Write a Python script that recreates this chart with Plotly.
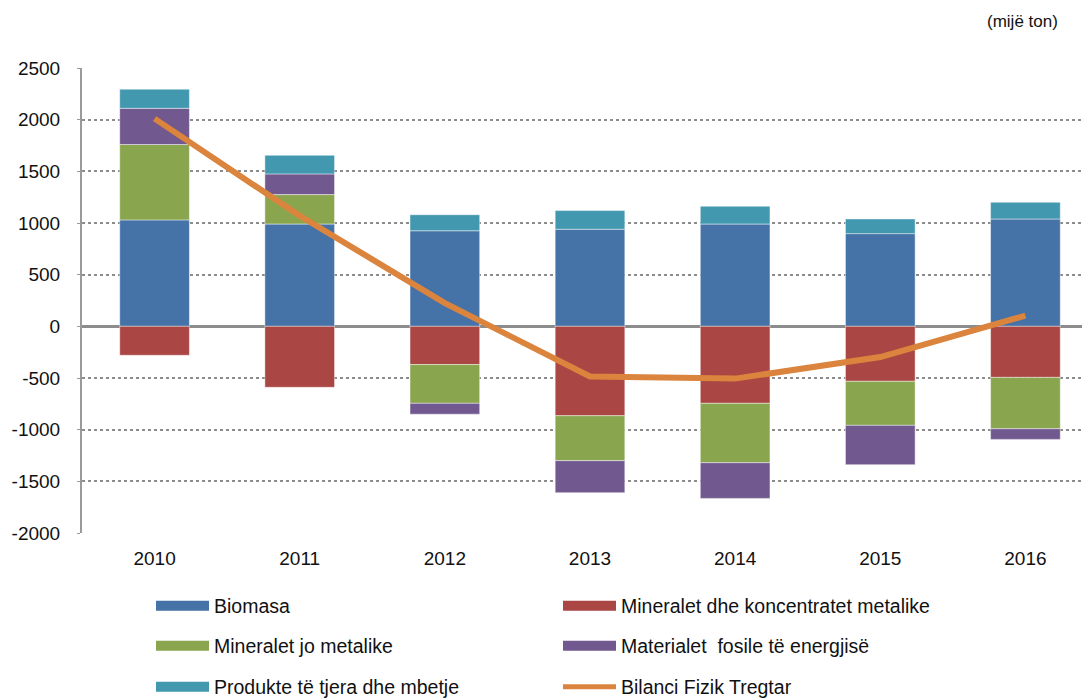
import plotly.graph_objects as go

years = ["2010", "2011", "2012", "2013", "2014", "2015", "2016"]
biomasa = [1030, 990, 925, 940, 990, 897, 1039]
mineralet_metalike = [-280, -590, -370, -865, -745, -532, -494]
mineralet_jo_metalike = [730, 285, -375, -435, -575, -426, -497]
fosile = [350, 200, -105, -310, -345, -381, -103]
produkte = [185, 180, 155, 180, 172, 142, 161]
bilanci = [2010, 1070, 225, -485, -506, -297, 104]

y_tick_vals = [-2000, -1500, -1000, -500, 0, 500, 1000, 1500, 2000, 2500]
y_tick_text = ["-2000", "-1500", "-1000", "-500", "0", "500", "1000", "1500", "2000", "2500"]

names = ["Biomasa", "Mineralet dhe koncentratet metalike", "Mineralet jo metalike",
         "Materialet  fosile të energjisë", "Produkte të tjera dhe mbetje", "Bilanci Fizik Tregtar"]
colors = ["#4572A7", "#AA4643", "#89A54E", "#71588F", "#4198AF", "#DB843D"]
series = [biomasa, mineralet_metalike, mineralet_jo_metalike, fosile, produkte]

FONT = "Liberation Sans, Arial, sans-serif"
W, H = 1090, 698
OFF = 8  # page body margin
ML, MT = 82 - OFF, 68 - OFF
MB = H - (533 - OFF)
PW, PH = W - ML, H - MT - MB

fig = go.Figure()

for s, n, c in zip(series, names, colors):
    fig.add_trace(go.Bar(x=years, y=s, name=n,
                         marker=dict(color=c, line=dict(color="rgba(255,255,255,0.45)", width=1)),
                         showlegend=False))

fig.add_trace(go.Scatter(x=years, y=bilanci, name=names[5], mode="lines",
                         line=dict(color=colors[5], width=6), showlegend=False))

# legend entries (wide rectangle symbols)
legend_ids = ["legend", "legend", "legend2", "legend2", "legend3", "legend3"]
for i in range(6):
    w = 5 if i == 5 else 11
    fig.add_trace(go.Scatter(x=[None], y=[None], name=names[i], mode="lines",
                             line=dict(color=colors[i], width=w), legend=legend_ids[i],
                             showlegend=True))

leg_common = dict(orientation="h", xref="container", yref="container", xanchor="left", yanchor="middle",
                  entrywidth=339, entrywidthmode="pixels", itemwidth=53, itemsizing="trace",
                  font=dict(family=FONT, size=19.5, color="#111"), bgcolor="rgba(0,0,0,0)",
                  traceorder="normal")
x0 = (148 - OFF + 3) / W
fig.update_layout(
    legend=dict(x=x0, y=1 - (606 - OFF) / H, **leg_common),
    legend2=dict(x=x0, y=1 - (646 - OFF) / H, **leg_common),
    legend3=dict(x=x0, y=1 - (687 - OFF) / H, **leg_common),
)

fig.update_layout(
    width=W, height=H,
    barmode="relative", bargap=0.52,
    plot_bgcolor="white", paper_bgcolor="white",
    margin=dict(l=ML, r=0, t=MT, b=MB),
    font=dict(family=FONT, size=19, color="#111"),
    xaxis=dict(showgrid=False, showline=False, ticks="", ticklabelstandoff=12,
               tickfont=dict(size=19)),
    yaxis=dict(range=[-2000, 2500], tickvals=y_tick_vals, ticktext=y_tick_text,
               showgrid=True, gridcolor="#8c8c8c", griddash="dot", gridwidth=1.5,
               zeroline=True, zerolinecolor="#8c8c8c", zerolinewidth=2.5,
               showline=True, linecolor="#9a9a9a", linewidth=2,
               ticks="outside", ticklen=3, tickcolor="#9a9a9a",
               ticklabelstandoff=13, tickfont=dict(size=19)),
    annotations=[dict(text="(mijë ton)", xref="paper", yref="paper",
                      x=(1060 - OFF - ML) / PW, y=(H - MB - (21 - OFF)) / PH,
                      xanchor="right", yanchor="middle",
                      showarrow=False, font=dict(size=17, color="#111"))],
)

fig.write_html("out.html")
